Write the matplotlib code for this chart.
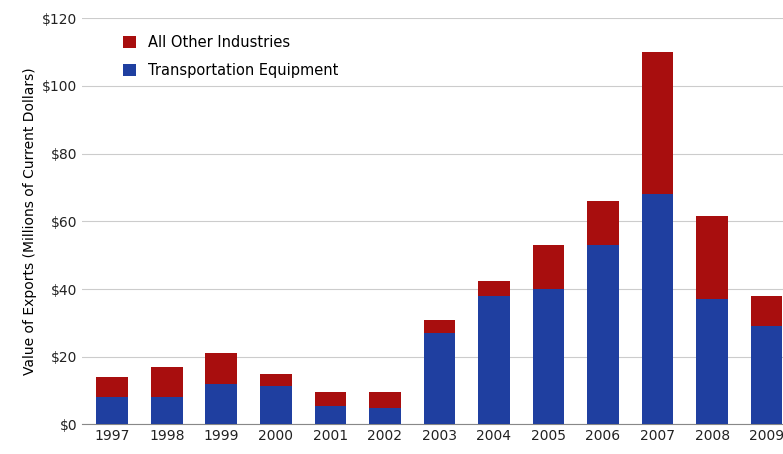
import matplotlib.pyplot as plt
import numpy as np

years = ['1997', '1998', '1999', '2000', '2001', '2002', '2003',
         '2004', '2005', '2006', '2007', '2008', '2009']
transport = [8, 8, 12, 11.5, 5.5, 5, 27, 38, 40, 53, 68, 37, 29]
total = [14, 17, 21, 15, 9.5, 9.5, 31, 42.5, 53, 66, 110, 61.5, 38]
other = [t - b for t, b in zip(total, transport)]

fig = plt.figure(figsize=(7.83, 4.54), dpi=100)
ax = fig.add_axes([0.105, 0.065, 0.895, 0.895])

x = np.arange(len(years))
ax.bar(x, transport, width=0.58, color='#1f3fa0', zorder=3,
       label='Transportation Equipment')
ax.bar(x, other, width=0.58, bottom=transport, color='#a80e0e', zorder=3,
       label='All Other Industries')

ax.set_xlim(-0.55, 12.3)
ax.set_ylim(0, 120)
ax.set_yticks(range(0, 121, 20))
ax.set_yticklabels(['$%d' % v for v in range(0, 121, 20)])
ax.set_xticks(x)
ax.set_xticklabels(years)
ax.yaxis.grid(True, color='#cccccc', linewidth=0.8, zorder=0)
ax.tick_params(length=0, labelsize=10, colors='#222222')
for s in ['top', 'right', 'left']:
    ax.spines[s].set_visible(False)
ax.spines['bottom'].set_color('#888888')
ax.set_ylabel('Value of Exports (Millions of Current Dollars)', fontsize=10)

h, l = ax.get_legend_handles_labels()
leg = ax.legend(h[::-1], l[::-1], loc='upper left', bbox_to_anchor=(0.04, 0.99),
                frameon=True, fancybox=False, edgecolor='white', framealpha=1,
                fontsize=10.5, handlelength=0.9, handleheight=0.9, labelspacing=0.9)
leg.set_zorder(5)

fig.savefig('out.png')
